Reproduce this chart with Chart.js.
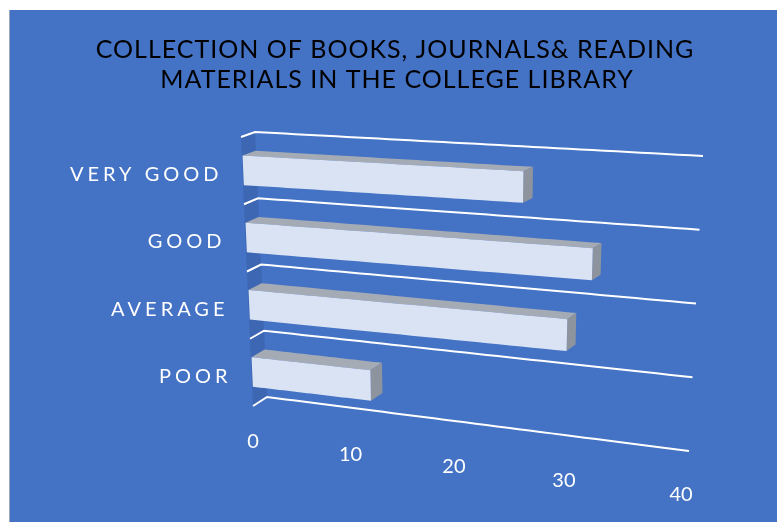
<!DOCTYPE html>
<html>
<head>
<meta charset="utf-8">
<script src="https://cdn.jsdelivr.net/npm/chart.js@4.4.1/dist/chart.umd.min.js"></script>
<style>
  html, body { margin: 0; padding: 0; background: #fff; }
  #wrap { width: 777px; height: 522px; }
</style>
</head>
<body>
<div id="wrap"><canvas id="grafica"></canvas></div>
<script>
// datos del grafico
const categorias = ["VERY GOOD", "GOOD", "AVERAGE", "POOR"];
const valores = [26, 32, 30, 12];
const ticksValor = [0, 10, 20, 30, 40];
const titulo = ["COLLECTION OF BOOKS, JOURNALS& READING", "MATERIALS IN THE COLLEGE LIBRARY"];

const azul = '#4472C4';
const pared = '#3D66B3';
const frente = '#DAE3F3';
const arriba = '#A5ABB5';
const lado = '#8E949D';

// proyeccion "3D" del plano trasero (u: valor 0..1, v: categoria 0..1, d: profundidad 0..1)
const persp = 1.13;
function proyectar(area, u, v, d) {
    const f = u / (u + persp * (1 - u));
    const xL = area.left + 12 * v;
    const xR = area.right - 14 * v;
    const yL = area.top + (area.bottom - area.top) * v;
    const caida = 24 + 30 * v;
    const dx = d * (-14 + 6 * f);
    const dy = d * (5 + 4 * v - f);
    return [xL + (xR - xL) * f + dx, yL + caida * f + dy];
}

function poligono(ctx, pts, color) {
    ctx.beginPath();
    ctx.moveTo(pts[0][0], pts[0][1]);
    for (let i = 1; i < pts.length; i++) ctx.lineTo(pts[i][0], pts[i][1]);
    ctx.closePath();
    ctx.fillStyle = color;
    ctx.fill();
}

const barras3d = {
    id: 'barras3d',
    beforeDraw(chart) {
        const ctx = chart.ctx;
        ctx.save();
        ctx.fillStyle = '#fff';
        ctx.fillRect(0, 0, chart.width, chart.height);
        ctx.fillStyle = '#9AA5B8';
        ctx.fillRect(9, 10, chart.width - 9, chart.height - 10);
        ctx.fillStyle = azul;
        ctx.fillRect(10, 10, chart.width - 10, chart.height - 10);
        ctx.restore();
    },
    afterDatasetsDraw(chart) {
        const ctx = chart.ctx;
        const area = chart.chartArea;
        const xs = chart.scales.x, ys = chart.scales.y;
        const U = px => (px - area.left) / (area.right - area.left);
        const V = py => (py - area.top) / (area.bottom - area.top);
        const P = (u, v, d) => proyectar(area, u, v, d);
        ctx.save();

        // titulo
        ctx.fillStyle = '#000';
        ctx.font = '25px Lato';
        ctx.letterSpacing = '1px';
        ctx.textAlign = 'center';
        ctx.textBaseline = 'middle';
        ctx.fillText(titulo[0], 395, 50);
        ctx.fillText(titulo[1], 397, 80);

        // pared izquierda
        poligono(ctx, [P(0, 0, 0), P(0, 1, 0), P(0, 1, 1), P(0, 0, 1)], pared);

        // lineas entre categorias
        ctx.strokeStyle = '#fff';
        ctx.lineWidth = 2;
        for (let k = 0; k <= categorias.length; k++) {
            const v = k / categorias.length;
            ctx.beginPath();
            const a = P(0, v, 1), b = P(0, v, 0);
            ctx.moveTo(a[0], a[1]);
            ctx.lineTo(b[0], b[1]);
            for (let s = 1; s <= 40; s++) {
                const p = P(s / 40, v, 0);
                ctx.lineTo(p[0], p[1]);
            }
            ctx.stroke();
        }

        // barras
        const meta = chart.getDatasetMeta(0);
        meta.data.forEach(bar => {
            const u0 = U(bar.base), u1 = U(bar.x);
            const v0 = V(bar.y - bar.height / 2), v1 = V(bar.y + bar.height / 2);
            const d0 = 0.02, d1 = 0.95;
            const n = 30;
            const borde = (v, d) => {
                const pts = [];
                for (let s = 0; s <= n; s++) pts.push(P(u0 + (u1 - u0) * s / n, v, d));
                return pts;
            };
            // cara superior
            poligono(ctx, borde(v0, d0).concat(borde(v0, d1).reverse()), arriba);
            // cara lateral
            poligono(ctx, [P(u1, v0, d0), P(u1, v1, d0), P(u1, v1, d1), P(u1, v0, d1)], lado);
            // cara frontal
            poligono(ctx, borde(v0, d1).concat(borde(v1, d1).reverse()), frente);
        });

        // etiquetas de categoria
        ctx.fillStyle = '#fff';
        ctx.font = '20px Lato';
        ctx.letterSpacing = '4px';
        ctx.textAlign = 'right';
        ctx.textBaseline = 'middle';
        categorias.forEach((c, i) => {
            const v = V(ys.getPixelForValue(i));
            const p = P(0, v, 1);
            ctx.fillText(c, p[0] - 20, p[1] + 4);
        });

        // etiquetas de valor
        ctx.letterSpacing = '0px';
        ctx.textAlign = 'center';
        ctx.font = '20px Lato';
        ticksValor.forEach(t => {
            const p = P(U(xs.getPixelForValue(t)), 1, 1);
            ctx.fillText(String(t), p[0], p[1] + 36);
        });
        ctx.restore();
    }
};

new Chart(document.querySelector('#grafica'), {
    type: 'bar',
    data: {
        labels: categorias,
        datasets: [{
            data: valores,
            backgroundColor: 'rgba(0,0,0,0)',
            barPercentage: 0.44,
            categoryPercentage: 1
        }]
    },
    options: {
        indexAxis: 'y',
        responsive: true,
        maintainAspectRatio: false,
        animation: false,
        layout: { padding: { left: 255, top: 132, right: 74, bottom: 125 } },
        scales: {
            x: { display: false, min: 0, max: 40, ticks: { stepSize: 10 } },
            y: { display: false }
        },
        plugins: {
            legend: { display: false },
            title: { display: false },
            tooltip: { enabled: false }
        }
    },
    plugins: [barras3d]
});
</script>
</body>
</html>
